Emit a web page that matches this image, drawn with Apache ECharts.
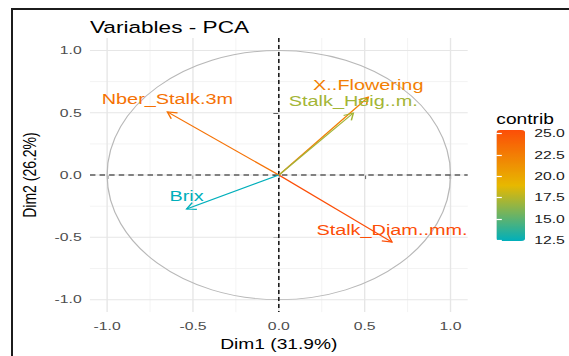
<!DOCTYPE html>
<html><head><meta charset="utf-8">
<script src="https://cdn.jsdelivr.net/npm/echarts@6/dist/echarts.min.js"></script>
<style>
html,body{margin:0;padding:0;background:#fff;width:569px;height:356px;overflow:hidden;}
#chart{position:absolute;left:0;top:0;width:415px;height:356px;transform:scaleX(1.3711);transform-origin:0 0;}
#frame{position:absolute;left:11px;top:8px;width:570px;height:360px;border-left:2px solid #1c1c1c;border-top:2px solid #1c1c1c;}
</style></head><body>
<div id="chart"></div><div id="frame"></div>
<script>
// ---- data ----
const variables = ['Nber_Stalk.3m', 'X..Flowering', 'Stalk_Heig..m.', 'Stalk_Diam..mm.', 'Brix'];
const dim1 = [-0.649, 0.521, 0.434, 0.659, -0.537];
const dim2 = [0.507, 0.625, 0.498, -0.538, -0.272];
const contrib = [23.2, 22.4, 17.0, 25.4, 12.4];
const axisTicks = [-1.0, -0.5, 0.0, 0.5, 1.0];
const minorBreaks = [-0.75, -0.25, 0.25, 0.75];
const legendBreaks = [12.5, 15.0, 17.5, 20.0, 22.5, 25.0];
const titleText = 'Variables - PCA';
const xTitle = 'Dim1 (31.9%)';
const yTitle = 'Dim2 (26.2%)';
const legendTitle = 'contrib';

const FONT = '"Liberation Sans", Arial, sans-serif';
const cMin = 12.4, cMax = 25.4;
const lim = 1.1;

function gridLineSeries(vals, vertical, color, width, z, dash) {
  return {
    type: 'custom', xAxisIndex: 0, yAxisIndex: 0, silent: true, z: z,
    data: vals.map(v => vertical ? [v, 0] : [0, v]),
    renderItem: function (params, api) {
      const cs = params.coordSys;
      const p = api.coord([api.value(0), api.value(1)]);
      const shape = vertical ? {x1: p[0], y1: cs.y, x2: p[0], y2: cs.y + cs.height}
                             : {x1: cs.x, y1: p[1], x2: cs.x + cs.width, y2: p[1]};
      return {type: 'line', shape: shape,
        style: {stroke: color, lineWidth: width, lineDash: dash || null}};
    }
  };
}

const arrowData = variables.map((n, i) => ({name: n, value: [dim1[i], dim2[i], contrib[i]]}));

const option = {
  animation: false,
  backgroundColor: '#fff',
  textStyle: {fontFamily: FONT},
  title: [
    {text: titleText, left: 65.6, top: 19, padding: 0,
     textStyle: {fontSize: 16.5, fontWeight: 'normal', color: '#000', fontFamily: FONT}},
    {text: legendTitle, left: 362, top: 112, padding: 0,
     textStyle: {fontSize: 14, fontWeight: 'normal', color: '#000', fontFamily: FONT}}
  ],
  grid: [
    {left: 65.6, top: 38, width: 275.5, height: 276},
    {left: 362, top: 130, width: 21, height: 111}
  ],
  xAxis: [
    {gridIndex: 0, type: 'value', min: -lim, max: lim,
     axisLine: {show: false}, splitLine: {show: false},
     axisTick: {show: true, length: 4, lineStyle: {color: '#333', width: 1}, customValues: axisTicks},
     axisLabel: {customValues: axisTicks, formatter: v => v.toFixed(1), color: '#4D4D4D', fontSize: 11.5, margin: 8, fontFamily: FONT},
     name: xTitle, nameLocation: 'middle', nameGap: 22,
     nameTextStyle: {fontSize: 14, color: '#000', fontFamily: FONT}},
    {gridIndex: 1, type: 'value', min: 0, max: 1, show: false}
  ],
  yAxis: [
    {gridIndex: 0, type: 'value', min: -lim, max: lim,
     axisLine: {show: false}, splitLine: {show: false},
     axisTick: {show: true, length: 4, lineStyle: {color: '#333', width: 1}, customValues: axisTicks},
     axisLabel: {customValues: axisTicks, formatter: v => v.toFixed(1), color: '#4D4D4D', fontSize: 11.5, margin: 6, fontFamily: FONT},
     name: yTitle, nameLocation: 'middle', nameGap: 33, nameRotate: 90,
     nameTextStyle: {fontSize: 14, color: '#000', fontFamily: FONT}},
    {gridIndex: 1, type: 'value', min: cMin, max: cMax, position: 'right', z: 10,
     axisLine: {show: false}, splitLine: {show: false},
     axisTick: {show: true, inside: true, length: 4, lineStyle: {color: '#fff', width: 1.2}, customValues: legendBreaks},
     axisLabel: {customValues: legendBreaks, formatter: v => v.toFixed(1), color: '#1a1a1a', fontSize: 11.5, margin: 7, fontFamily: FONT}},
    {gridIndex: 1, type: 'value', min: cMin, max: cMax, position: 'left', z: 10,
     axisLine: {show: false}, splitLine: {show: false}, axisLabel: {show: false},
     axisTick: {show: true, inside: true, length: 4, lineStyle: {color: '#fff', width: 1.2}, customValues: legendBreaks}}
  ],
  visualMap: [{
    type: 'continuous', min: cMin, max: cMax, dimension: 2, seriesIndex: 7,
    inRange: {color: ['#00AFBB', '#E7B800', '#FC4E07']},
    calculable: false, hoverLink: false, orient: 'vertical',
    left: 362, top: 130, itemWidth: 21, itemHeight: 111, padding: 0, text: null,
    z: 4
  }],
  series: [
    gridLineSeries(minorBreaks, true, '#F1F1F1', 0.7, 1),
    gridLineSeries(minorBreaks, false, '#F1F1F1', 0.7, 1),
    gridLineSeries(axisTicks, true, '#E6E6E6', 1, 1),
    gridLineSeries(axisTicks, false, '#E6E6E6', 1, 1),
    {
      type: 'custom', xAxisIndex: 0, yAxisIndex: 0, silent: true, z: 2,
      data: [[0, 0]],
      renderItem: function (params, api) {
        const c = api.coord([0, 0]);
        const s = api.size([1, 1]);
        return {type: 'ellipse', shape: {cx: c[0], cy: c[1], rx: s[0], ry: s[1]},
          style: {stroke: '#B8B8B8', fill: null, lineWidth: 0.9}};
      }
    },
    gridLineSeries([0], true, '#111', 1.1, 3, [4, 3]),
    gridLineSeries([0], false, '#111', 1.1, 3, [4, 3]),
    {
      type: 'custom', xAxisIndex: 0, yAxisIndex: 0, silent: true, z: 4,
      data: arrowData,
      renderItem: function (params, api) {
        const o = api.coord([0, 0]);
        const p = api.coord([api.value(0), api.value(1)]);
        const color = api.visual('color');
        const ang = Math.atan2(p[1] - o[1], p[0] - o[0]);
        const L = 7.5, a = Math.PI / 6;
        const h1 = [p[0] - L * Math.cos(ang - a), p[1] - L * Math.sin(ang - a)];
        const h2 = [p[0] - L * Math.cos(ang + a), p[1] - L * Math.sin(ang + a)];
        const name = variables[params.dataIndex];
        return {type: 'group', children: [
          {type: 'line', shape: {x1: o[0], y1: o[1], x2: p[0], y2: p[1]}, style: {stroke: color, lineWidth: 1.1}},
          {type: 'polyline', shape: {points: [h1, p, h2]}, style: {stroke: color, fill: null, lineWidth: 1.1}},
          {type: 'text', x: p[0], y: p[1] - 5,
           style: {text: name, fill: color, fontSize: 14.5, fontFamily: FONT, align: 'center', verticalAlign: 'bottom'}}
        ]};
      }
    }
  ]
};

const chart = echarts.init(document.getElementById('chart'), null, {renderer: 'svg'});
chart.setOption(option);
</script>
</body></html>
